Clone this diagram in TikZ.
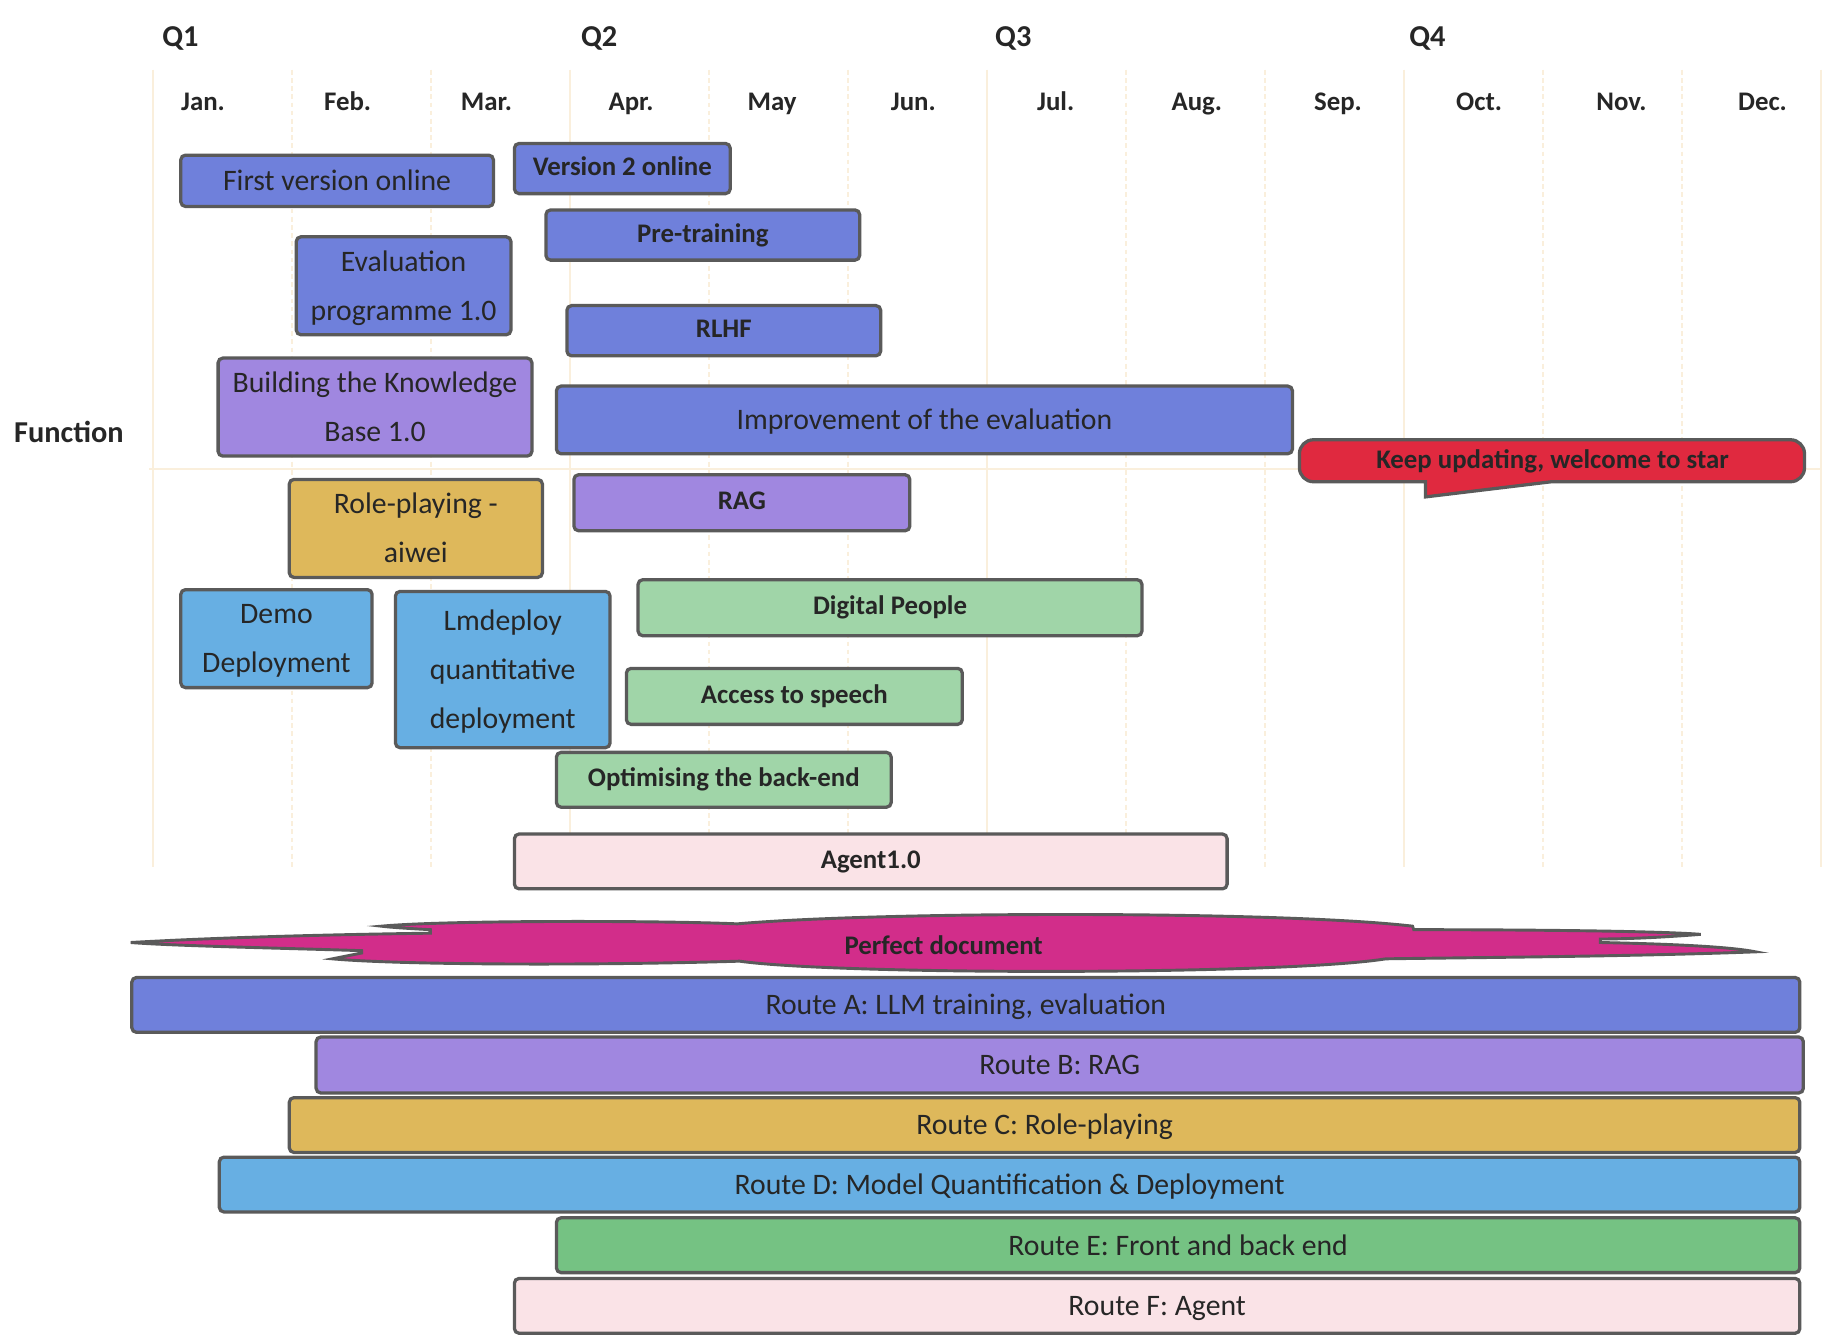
\documentclass[tikz,border=0pt]{standalone}
\usepackage{fontspec}
\setmainfont{Carlito}
\definecolor{cblue}{HTML}{6F80DB}
\definecolor{cpurple}{HTML}{A087E0}
\definecolor{cgold}{HTML}{DEB85B}
\definecolor{clblue}{HTML}{67AFE3}
\definecolor{cgreen}{HTML}{A0D5A8}
\definecolor{cdgreen}{HTML}{75C283}
\definecolor{cpink}{HTML}{FAE3E7}
\definecolor{cred}{HTML}{E0293F}
\definecolor{cmag}{HTML}{D22D8A}
\definecolor{cborder}{HTML}{5A5A5A}
\definecolor{ctext}{HTML}{262626}
\definecolor{cgrid}{HTML}{FAEFDC}
\newcommand\gbox[7]{%
  \node[bar,#6,minimum width={#4-#2},minimum height={#5-#3}] (#1) at ({(#2+#4)/2},{(#3+#5)/2}) {\strut #7};}
\begin{document}
\begin{tikzpicture}[x=1pt,y=-1pt,
  bar/.style={draw=cborder,line width=2.8pt,rounded corners=4pt,inner sep=0pt,text=ctext,
    font=\fontsize{25.5}{42}\selectfont,align=center},
  bb/.style={font=\bfseries\fontsize{23}{30}\selectfont},
  month/.style={anchor=base,text=ctext,font=\bfseries\fontsize{23}{28}\selectfont,inner sep=0pt},
  quarter/.style={anchor=base west,text=ctext,font=\bfseries\fontsize{26}{30}\selectfont,inner sep=0pt},
  gridsolid/.style={draw=cgrid,line width=1.6pt},
  griddash/.style={draw=cgrid,line width=1.6pt,dash pattern=on 4pt off 3pt},
  outline/.style={draw=cborder,line width=2.8pt}]
\useasboundingbox (0,0) rectangle (1562,1145);
\fill[white] (0,0) rectangle (1562,1145);
% grid
\foreach \i in {0,...,12}{
  \pgfmathsetmacro\gx{131+\i*119.1667}
  \pgfmathtruncatemacro\gm{mod(\i,3)}
  \ifnum\gm=0
    \draw[gridsolid] (\gx,60) -- (\gx,743);
  \else
    \draw[griddash] (\gx,60) -- (\gx,743);
  \fi
}
\draw[gridsolid] (128,402) -- (1562,402);
% quarters
\node[quarter] (q1) at (139,40) {Q1};
\node[quarter] (q2) at (498,40) {Q2};
\node[quarter] (q3) at (853,40) {Q3};
\node[quarter] (q4) at (1208,40) {Q4};
% months
\node[month] (m1) at (174,94.5) {Jan.};
\node[month] (m2) at (298,94.5) {Feb.};
\node[month] (m3) at (417,94.5) {Mar.};
\node[month] (m4) at (541,94.5) {Apr.};
\node[month] (m5) at (662,94.5) {May};
\node[month] (m6) at (783,94.5) {Jun.};
\node[month] (m7) at (905,94.5) {Jul.};
\node[month] (m8) at (1026,94.5) {Aug.};
\node[month] (m9) at (1147,94.5) {Sep.};
\node[month] (m10) at (1268,94.5) {Oct.};
\node[month] (m11) at (1390,94.5) {Nov.};
\node[month] (m12) at (1511,94.5) {Dec.};
\node[quarter] (func) at (12,379.5) {Function};
% task boxes
\gbox{first}{155}{133}{423}{177}{fill=cblue}{First version online}
\gbox{v2}{441}{123}{626}{166}{fill=cblue,bb}{Version 2 online}
\gbox{pre}{468}{180}{737}{223}{fill=cblue,bb}{Pre-training}
\gbox{evalp}{254}{204}{438}{286}{fill=cblue}{Evaluation\\\strut programme 1.0}
\gbox{rlhf}{486}{262}{755}{305}{fill=cblue,bb}{RLHF}
\gbox{kb}{187}{308}{456}{390}{fill=cpurple}{Building the Knowledge\\\strut Base 1.0}
\gbox{impr}{477}{331}{1108}{389}{fill=cblue}{Improvement of the evaluation}
\gbox{role}{248}{412}{465}{494}{fill=cgold}{Role-playing -\\\strut aiwei}
\gbox{rag}{492}{407}{780}{455}{fill=cpurple,bb}{RAG}
\gbox{demo}{155}{507}{319}{588}{fill=clblue}{Demo\\\strut Deployment}
\gbox{lmd}{339}{507}{523}{641}{fill=clblue}{Lmdeploy\\\strut quantitative\\\strut deployment}
\gbox{dp}{547}{497}{979}{545}{fill=cgreen,bb}{Digital People}
\gbox{speech}{537}{573}{825}{621}{fill=cgreen,bb}{Access to speech}
\gbox{backend}{477}{645}{764}{692}{fill=cgreen,bb}{Optimising the back-end}
\gbox{agent}{441}{715}{1052}{762}{fill=cpink,bb}{Agent1.0}
% callout
\path[outline,fill=cred] (1126,377) -- (1535,377) arc[start angle=-90,end angle=0,radius=12]
  -- (1547,401) arc[start angle=0,end angle=90,radius=12]
  -- (1330,413) -- (1222,426) -- (1222,413) -- (1126,413)
  arc[start angle=90,end angle=180,radius=12] -- (1114,389)
  arc[start angle=180,end angle=270,radius=12] -- cycle;
\node[text=ctext,font=\bfseries\fontsize{23}{30}\selectfont,inner sep=0pt] (keep) at (1331,396) {\strut Keep updating, welcome to star};
% cloud
\path[draw=cborder,line width=2.5pt,fill=cmag]
  (112,808) .. controls (200,803) and (300,801) .. (369,800)
  -- (369,797) .. controls (350,796) and (335,795) .. (327,794)
  .. controls (380,789) and (560,789) .. (632,792)
  .. controls (760,781) and (1100,781) .. (1211,794)
  -- (1212,797) .. controls (1300,797) and (1420,798) .. (1458,801)
  .. controls (1420,804) and (1390,805) .. (1372,805)
  -- (1372,808) .. controls (1420,809) and (1480,811) .. (1505,816)
  .. controls (1400,820) and (1250,821) .. (1188,822)
  .. controls (1100,836) and (720,836) .. (634,824)
  .. controls (500,828) and (340,827) .. (285,822)
  .. controls (295,820) and (305,818) .. (310,817)
  -- (310,815) .. controls (250,813) and (150,811) .. (112,808) -- cycle;
\node[text=ctext,font=\bfseries\fontsize{23}{30}\selectfont,inner sep=0pt] (perfect) at (809,812) {\strut Perfect document};
% routes
\gbox{ra}{113}{838}{1543}{885}{fill=cblue}{Route A: LLM training, evaluation}
\gbox{rb}{271}{889}{1546}{937}{fill=cpurple}{Route B: RAG}
\gbox{rc}{248}{941}{1543}{988}{fill=cgold}{Route C: Role-playing}
\gbox{rd}{188}{992}{1543}{1039}{fill=clblue}{Route D: Model Quantification \& Deployment}
\gbox{re}{477}{1044}{1543}{1091}{fill=cdgreen}{Route E: Front and back end}
\gbox{rf}{441}{1096}{1543}{1143}{fill=cpink}{Route F: Agent}
\end{tikzpicture}
\end{document}
